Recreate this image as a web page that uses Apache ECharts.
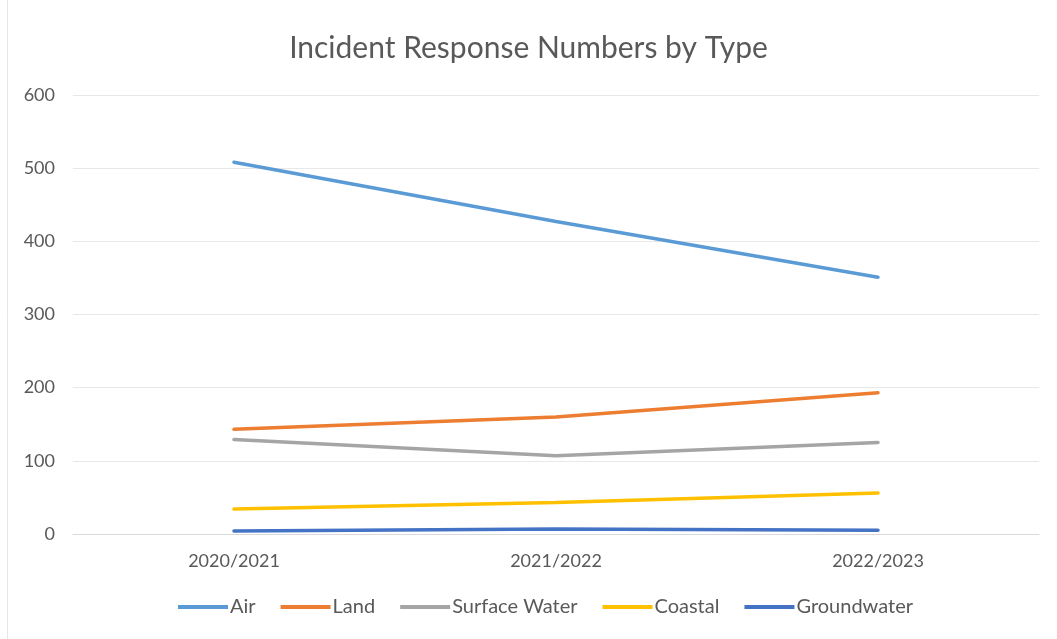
<!DOCTYPE html>
<html>
<head>
<meta charset="utf-8">
<script src="https://cdn.jsdelivr.net/npm/echarts@6/dist/echarts.min.js"></script>
<style>
  html, body { margin: 0; padding: 0; background: #fff; }
  #chart { width: 1057px; height: 639px; }
</style>
</head>
<body>
<div id="chart"></div>
<script>
// Fiscal years on the category axis
const years = ['2020/2021', '2021/2022', '2022/2023'];

// Incident responses per type
const air = [508, 427, 351];
const land = [143, 160, 193];
const surfaceWater = [129, 107, 125];
const coastal = [34, 43, 56];
const groundwater = [4, 7, 5];

const seriesNames = ['Air', 'Land', 'Surface Water', 'Coastal', 'Groundwater'];
const seriesColors = ['#5B9BD5', '#ED7D31', '#A5A5A5', '#FFC000', '#4472C4'];
const seriesValues = [air, land, surfaceWater, coastal, groundwater];

const FONT = 'Lato, "Liberation Sans", sans-serif';

const chart = echarts.init(document.getElementById('chart'), null, { renderer: 'canvas' });

chart.setOption({
  backgroundColor: '#ffffff',
  animation: false,
  title: {
    text: 'Incident Response Numbers by Type',
    left: 'center',
    top: 28,
    textStyle: { fontFamily: FONT, fontSize: 30, fontWeight: 'normal', color: '#595959' }
  },
  legend: {
    bottom: 17,
    left: 173,
    itemWidth: 50,
    itemHeight: 4,
    itemGap: 25,
    icon: 'rect',
    textStyle: { fontFamily: FONT, fontSize: 20, color: '#595959', padding: [0, 0, 0, -3] },
    data: seriesNames
  },
  grid: { left: 73, right: 18, top: 95, bottom: 105, containLabel: false },
  xAxis: {
    type: 'category',
    data: years,
    boundaryGap: true,
    axisLine: { show: true, lineStyle: { color: '#d9d9d9', width: 1 } },
    axisTick: { show: false },
    axisLabel: { fontFamily: FONT, fontSize: 18, color: '#595959', margin: 18 }
  },
  yAxis: {
    type: 'value',
    min: 0,
    max: 600,
    interval: 100,
    axisLine: { show: false },
    axisTick: { show: false },
    splitLine: { lineStyle: { color: '#e8e8e8', width: 1 } },
    axisLabel: { fontFamily: FONT, fontSize: 18, color: '#595959', margin: 18 }
  },
  series: seriesNames.map((name, i) => ({
    name,
    type: 'line',
    data: seriesValues[i],
    symbol: 'none',
    color: seriesColors[i],
    lineStyle: { width: 3.5, color: seriesColors[i], cap: 'round' }
  })),
  graphic: [{
    type: 'line',
    shape: { x1: 7.5, y1: 0, x2: 7.5, y2: 639 },
    style: { stroke: '#e6e6e6', lineWidth: 1 },
    silent: true
  }]
});
</script>
</body>
</html>
